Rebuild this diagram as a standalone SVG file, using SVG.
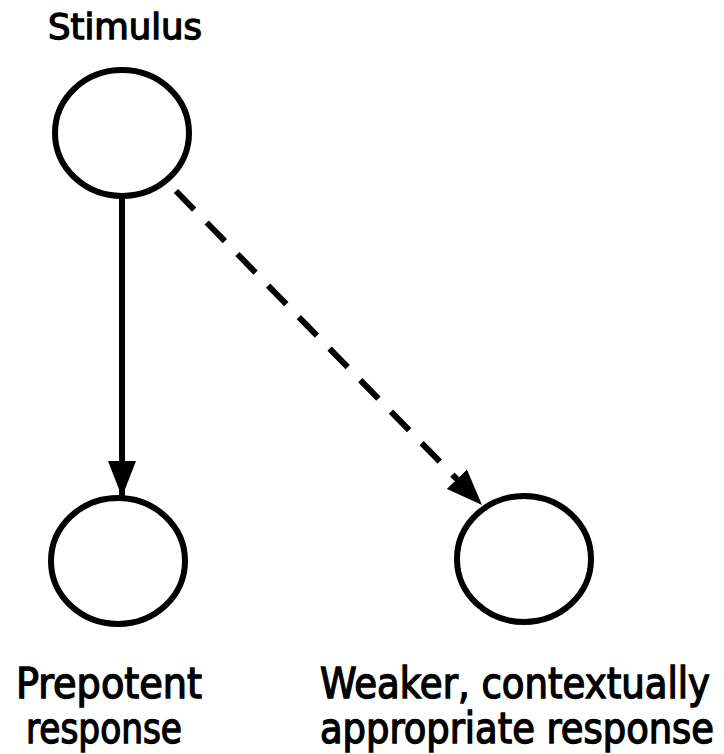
<svg xmlns="http://www.w3.org/2000/svg" width="724" height="754" viewBox="0 0 724 754">
  <defs>
    <style>
      .node { fill: #ffffff; stroke: #000000; stroke-width: 6; }
      .label { font-family: "DejaVu Sans Condensed", "DejaVu Sans", "Liberation Sans", sans-serif; fill: #000000; stroke: #000000; stroke-width: 1.3; text-anchor: middle; }
      .edge { fill: none; stroke: #000000; stroke-width: 6; }
      .dashed { stroke-dasharray: 26 18; }
    </style>
    <marker id="head" viewBox="0 0 36 28" refX="36" refY="14" markerWidth="36" markerHeight="28" markerUnits="userSpaceOnUse" orient="auto">
      <path d="M0,0 L36,14 L0,28 Z" fill="#000000"/>
    </marker>
  </defs>

  <g id="connectors">
    <line class="edge" x1="122" y1="197" x2="122" y2="497" marker-end="url(#head)"/>
    <line class="edge dashed" x1="176" y1="191" x2="482" y2="505" marker-end="url(#head)"/>
  </g>

  <g id="stimulus">
    <ellipse class="node" cx="122" cy="133" rx="67" ry="63"/>
    <text class="label" x="125" y="39" font-size="36" textLength="154" lengthAdjust="spacingAndGlyphs">Stimulus</text>
  </g>

  <g id="prepotent">
    <ellipse class="node" cx="118" cy="561" rx="67" ry="63"/>
    <text class="label" x="109" y="698" font-size="42" textLength="186" lengthAdjust="spacingAndGlyphs">Prepotent</text>
    <text class="label" x="104" y="743" font-size="42" textLength="156" lengthAdjust="spacingAndGlyphs">response</text>
  </g>

  <g id="weaker">
    <ellipse class="node" cx="524" cy="559" rx="67" ry="63"/>
    <text class="label" x="515" y="698" font-size="42" textLength="390" lengthAdjust="spacingAndGlyphs">Weaker, contextually</text>
    <text class="label" x="517" y="743" font-size="42" textLength="394" lengthAdjust="spacingAndGlyphs">appropriate response</text>
  </g>
</svg>
